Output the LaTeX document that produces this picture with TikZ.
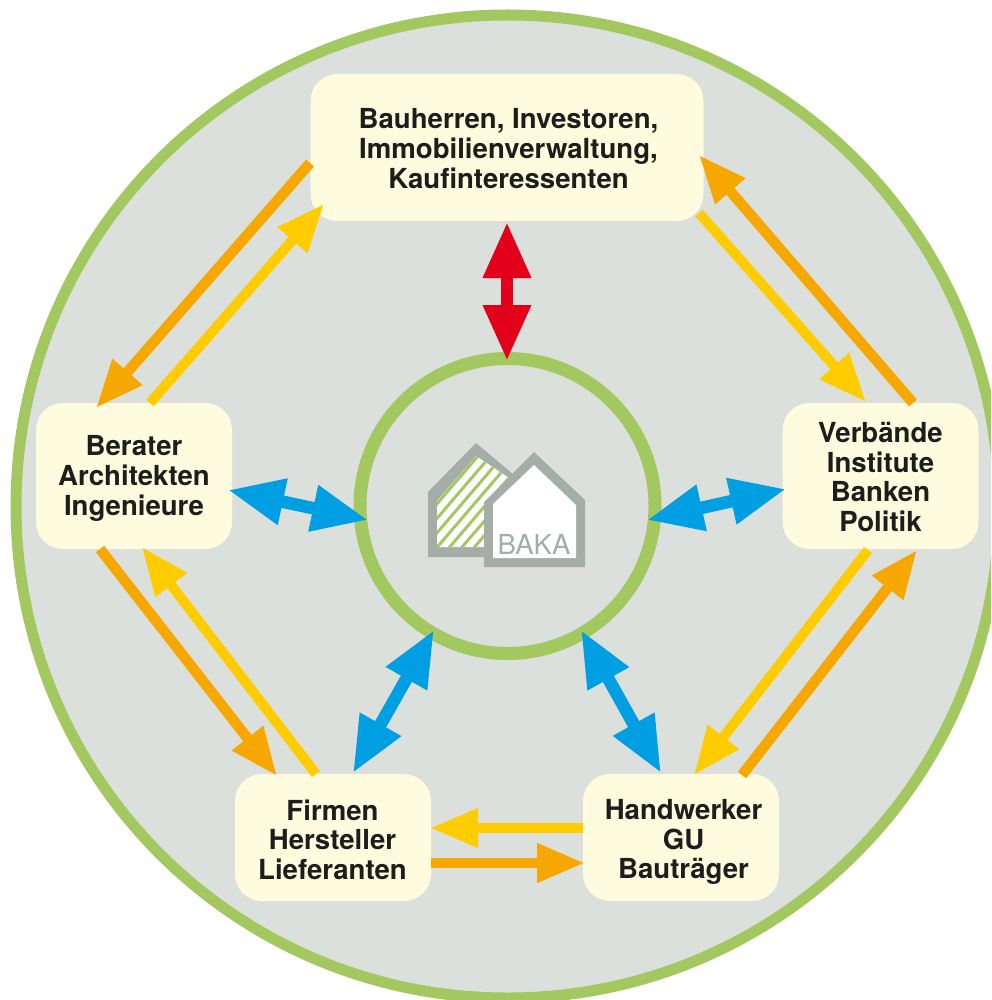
\documentclass[tikz,border=0pt]{standalone}
\usepackage{fontspec}
\setmainfont{TeX Gyre Heros}
\usetikzlibrary{arrows.meta}
\definecolor{bgc}{HTML}{DBE0DC}
\definecolor{ringc}{HTML}{A3C85F}
\definecolor{boxc}{HTML}{FFFBDF}
\definecolor{orangec}{HTML}{F7A800}
\definecolor{yellowc}{HTML}{FFCC00}
\definecolor{redc}{HTML}{E2001A}
\definecolor{bluec}{HTML}{009FE3}
\definecolor{greyc}{HTML}{A5ADA8}
\definecolor{textc}{HTML}{1D1D1B}
\tikzset{
  actor/.style={fill=boxc,rounded corners=27pt,inner sep=0pt},
  actortext/.style={inner sep=0pt,align=center,text=textc,
    font=\fontsize{27.6}{#1}\selectfont\bfseries},
  flowo/.style={draw=orangec,line width=10.5pt,-{Triangle[length=48pt,width=37pt]}},
  flowy/.style={draw=yellowc,line width=10pt,-{Triangle[length=48pt,width=37pt]}},
  link/.style={draw=bluec,line width=12.6pt,{Triangle[length=56pt,width=44pt]}-{Triangle[length=56pt,width=44pt]}},
  linkred/.style={draw=redc,line width=12.7pt,{Triangle[length=56pt,width=45pt]}-{Triangle[length=56pt,width=45pt]}},
}
\begin{document}
\begin{tikzpicture}[x=1pt,y=-1pt]
\useasboundingbox (0,0) rectangle (991,1000);
\clip (0,0) rectangle (991,1000);
\fill[white] (0,0) rectangle (991,1000);
\draw[fill=bgc,draw=ringc,line width=11pt] (507.5,506.5) circle[radius=491.5];
\draw[draw=ringc,line width=13pt] (507.5,506) circle[radius=147.5];
% logo
\fill[greyc] (476,443) -- (428,492) -- (428,557) -- (500,557) -- (520,480) -- cycle;
\fill[white] (476,456) -- (437,501) -- (437,547) -- (500,547) -- (512,480) -- cycle;
\begin{scope}
\clip (476,456) -- (437,501) -- (437,547) -- (500,547) -- (512,480) -- cycle;
\foreach \k in {0,...,8}
  \draw[ringc,line width=3pt] (430,{512+14.5*\k}) -- ++(90,-105);
\end{scope}
\fill[greyc] (534,452) -- (484,502) -- (484,567) -- (585,567) -- (585,500) -- cycle;
\fill[white] (534,465) -- (493,504) -- (493,558) -- (576,558) -- (576,505) -- cycle;
\node[inner sep=0pt,text=greyc,font=\fontsize{27.5}{30}\selectfont] (baka) at (534,544) {BAKA};
% boxes
\node[actor,minimum width=393pt,minimum height=147pt] (top) at (507,147.5) {};
\node[actor,minimum width=196pt,minimum height=146pt] (left) at (134,476) {};
\node[actor,minimum width=196pt,minimum height=146pt] (right) at (880.5,476) {};
\node[actor,minimum width=196pt,minimum height=127pt] (firm) at (333,837.5) {};
\node[actor,minimum width=196pt,minimum height=127pt] (hand) at (681,837.5) {};
\node[actortext=30pt] (toptext) at (508.5,148.5) {Bauherren, Investoren,\\Immobilienverwaltung,\\Kaufinteressenten};
\node[actortext=30pt] (lefttext) at (134,478.5) {Berater\\Architekten\\Ingenieure};
\node[actortext=29.4pt] (righttext) at (880.5,477) {Verbände\\Institute\\Banken\\Politik};
\node[actortext=29.4pt] (firmtext) at (332.5,839.5) {Firmen\\Hersteller\\Lieferanten};
\node[actortext=29.4pt] (handtext) at (683.5,842) {Handwerker\\GU\\Bauträger};
% connector ends
\coordinate (a1) at (310,163); \coordinate (a2) at (96,408);
\coordinate (b1) at (150,403); \coordinate (b2) at (324,204);
\coordinate (c1) at (699,213); \coordinate (c2) at (866,402);
\coordinate (d1) at (913,403); \coordinate (d2) at (699,155);
\coordinate (e1) at (868,550); \coordinate (e2) at (694,775);
\coordinate (f1) at (742,775); \coordinate (f2) at (917,550);
\coordinate (g1) at (583,828); \coordinate (g2) at (430,828);
\coordinate (h1) at (431,863); \coordinate (h2) at (585,863);
\coordinate (i1) at (100,549); \coordinate (i2) at (277,776);
\coordinate (j1) at (316,774); \coordinate (j2) at (142,547);
\coordinate (r1) at (507,222); \coordinate (r2) at (507,361);
\coordinate (k1) at (228,490); \coordinate (k2) at (368,520);
\coordinate (l1) at (786,489); \coordinate (l2) at (647,520);
\coordinate (m1) at (434,630); \coordinate (m2) at (353,773);
\coordinate (n1) at (581,630); \coordinate (n2) at (661,773);
\draw[flowo] (a1) -- (a2);
\draw[flowy] (b1) -- (b2);
\draw[flowy] (c1) -- (c2);
\draw[flowo] (d1) -- (d2);
\draw[flowy] (e1) -- (e2);
\draw[flowo] (f1) -- (f2);
\draw[flowy] (g1) -- (g2);
\draw[flowo] (h1) -- (h2);
\draw[flowo] (i1) -- (i2);
\draw[flowy] (j1) -- (j2);
\draw[linkred] (r1) -- (r2);
\draw[link] (k1) -- (k2);
\draw[link] (l1) -- (l2);
\draw[link] (m1) -- (m2);
\draw[link] (n1) -- (n2);
\end{tikzpicture}
\end{document}
